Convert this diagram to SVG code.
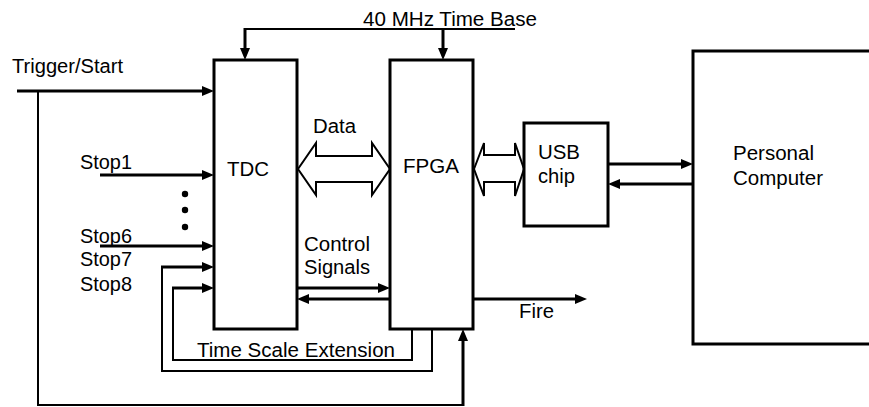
<svg xmlns="http://www.w3.org/2000/svg" width="869" height="407" viewBox="0 0 869 407">
<style>
.box{fill:#fff;stroke:#000;stroke-width:3}
.w{fill:none;stroke:#000;stroke-width:3}
.t{fill:none;stroke:#000;stroke-width:2}
.dbl{fill:#fff;stroke:#000;stroke-width:2;stroke-linejoin:miter}
text{font-family:"Liberation Sans",Arial,sans-serif;font-size:20px;fill:#000}
</style>
<defs>
<marker id="ah" viewBox="0 0 12 10" refX="2" refY="5" markerWidth="12" markerHeight="10" markerUnits="userSpaceOnUse" orient="auto">
<path d="M0,0 L12,5 L0,10 z" fill="#000"/>
</marker>
</defs>
<rect width="869" height="407" fill="#fff"/>
<g id="connectors">
<path class="t" d="M245,29 H515"/>
<path class="w" d="M245,28 V50" marker-end="url(#ah)"/>
<path class="w" d="M443,29 V50" marker-end="url(#ah)"/>
<path class="w" d="M17,91 H204" marker-end="url(#ah)"/>
<path class="t" d="M38,91 V405 H463"/>
<path class="w" d="M463,406 V339" marker-end="url(#ah)"/>
<path class="w" d="M100,175 H204" marker-end="url(#ah)"/>
<path class="w" d="M100,246 H204" marker-end="url(#ah)"/>
<path class="t" d="M432,329 V371 H162 V267"/>
<path class="w" d="M161,267 H204" marker-end="url(#ah)"/>
<path class="t" d="M412,329 V360 H173 V288"/>
<path class="w" d="M172,288 H204" marker-end="url(#ah)"/>
<path class="w" d="M297,288 H380" marker-end="url(#ah)"/>
<path class="w" d="M390,299 H307" marker-end="url(#ah)"/>
<path class="w" d="M473,299 H577" marker-end="url(#ah)"/>
<path class="w" d="M608,164 H683" marker-end="url(#ah)"/>
<path class="w" d="M693,184 H618" marker-end="url(#ah)"/>
<polygon class="dbl" points="298,169 316,143 316,156 372,156 372,143 390,169 372,195 372,182 316,182 316,195"/>
<polygon class="dbl" points="474,169 484,143 484,155 515,155 515,143 524,169 515,196 515,182 484,182 484,196"/>
<circle cx="185" cy="194" r="3.2"/>
<circle cx="185" cy="210" r="3.2"/>
<circle cx="185" cy="227" r="3.2"/>
</g>
<g id="tdc">
<rect class="box" x="214" y="60" width="83" height="269"/>
<text x="227" y="176" textLength="42" lengthAdjust="spacingAndGlyphs">TDC</text>
</g>
<g id="fpga">
<rect class="box" x="390" y="60" width="83" height="269"/>
<text x="403" y="173" textLength="56" lengthAdjust="spacingAndGlyphs">FPGA</text>
</g>
<g id="usb">
<rect class="box" x="524" y="123" width="84" height="103"/>
<text x="538" y="159" textLength="42" lengthAdjust="spacingAndGlyphs">USB</text>
<text x="538" y="183" textLength="37" lengthAdjust="spacingAndGlyphs">chip</text>
</g>
<g id="pc">
<rect class="box" x="693" y="51" width="200" height="293"/>
<text x="733" y="160" textLength="81" lengthAdjust="spacingAndGlyphs">Personal</text>
<text x="733" y="185" textLength="90" lengthAdjust="spacingAndGlyphs">Computer</text>
</g>
<g id="labels">
<text x="12" y="73" textLength="111" lengthAdjust="spacingAndGlyphs">Trigger/Start</text>
<text x="363" y="26" textLength="174" lengthAdjust="spacingAndGlyphs">40 MHz Time Base</text>
<text x="313" y="133" textLength="43" lengthAdjust="spacingAndGlyphs">Data</text>
<text x="80" y="169" textLength="52" lengthAdjust="spacingAndGlyphs">Stop1</text>
<text x="80" y="243" textLength="52" lengthAdjust="spacingAndGlyphs">Stop6</text>
<text x="80" y="266" textLength="52" lengthAdjust="spacingAndGlyphs">Stop7</text>
<text x="80" y="291" textLength="52" lengthAdjust="spacingAndGlyphs">Stop8</text>
<text x="304" y="251" textLength="66" lengthAdjust="spacingAndGlyphs">Control</text>
<text x="304" y="274" textLength="66" lengthAdjust="spacingAndGlyphs">Signals</text>
<text x="197" y="357" textLength="198" lengthAdjust="spacingAndGlyphs">Time Scale Extension</text>
<text x="519" y="318" textLength="35" lengthAdjust="spacingAndGlyphs">Fire</text>
</g>
</svg>
